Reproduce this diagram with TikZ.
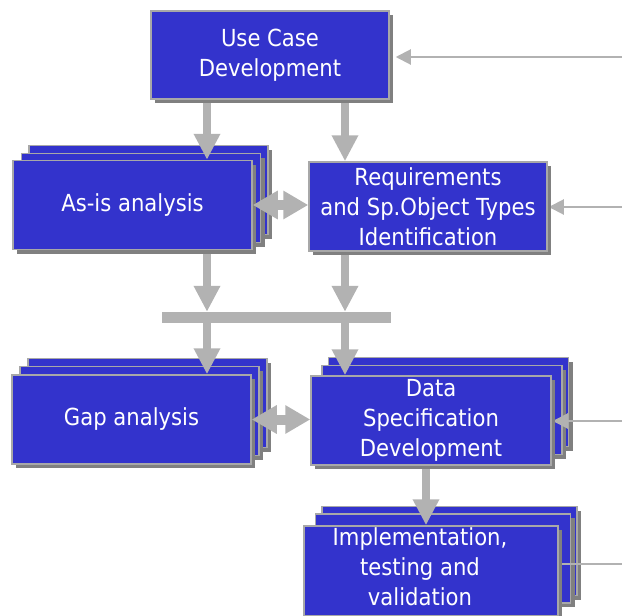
\documentclass[tikz,border=0pt]{standalone}
\usepackage{fontspec}
\setmainfont{DejaVu Sans}[FakeStretch=0.9]
\usetikzlibrary{arrows.meta,shadows,calc}
\definecolor{boxblue}{HTML}{3333CC}
\definecolor{bordergray}{HTML}{A8A8A8}
\definecolor{shadowgray}{HTML}{808080}
\definecolor{arrowgray}{HTML}{B2B2B2}
\pgfdeclarelayer{back}
\pgfdeclarelayer{mid}
\pgfsetlayers{back,mid,main}
\begin{document}
\begin{tikzpicture}[x=1pt,y=-1pt,
 box/.style={draw=bordergray, line width=1.5pt, fill=boxblue, text=white, align=center, inner sep=0pt,
   minimum width=239pt, minimum height=89pt, font=\fontsize{23.5}{30}\selectfont,
   drop shadow={shadow xshift=4pt, shadow yshift=-4pt, fill=shadowgray, opacity=1}},
 boxtext/.style={text=white, align=center, inner sep=0pt, font=\fontsize{23.5}{30}\selectfont},
 fat/.style={draw=arrowgray, line width=8pt, -{Triangle[width=25pt,length=26pt]}},
 dbl/.style={draw=arrowgray, line width=10pt, {Triangle[width=27pt,length=25pt]}-{Triangle[width=27pt,length=25pt]}},
 thinarrow/.style={draw=arrowgray, line width=2pt, -{Triangle[width=15pt,length=15pt]}},
 thinline/.style={draw=arrowgray, line width=2pt},
]
\useasboundingbox (0,0) rectangle (622,616);

% stacked back boxes
\begin{pgfonlayer}{back}
\node[box] (asis3) at (148.5,190) {};
\node[box] (asis2) at (141,198) {};
\node[box] (gap3) at (147.5,403) {};
\node[box] (gap2) at (139.5,411) {};
\node[box, minimum width=240pt] (dsd3) at (448.5,402) {};
\node[box, minimum width=240pt] (dsd2) at (442,410) {};
\node[box, minimum width=255pt] (impl3) at (449.5,551) {};
\node[box, minimum width=255pt] (impl2) at (443,558.5) {};
\end{pgfonlayer}

% front boxes
\node[box, minimum width=238pt, minimum height=88pt] (uc) at (270,55) {Use Case\\Development};
\node[box] (asis) at (132.5,205) {As-is analysis};
\node[box, minimum width=238pt] (req) at (428,206.5) {Requirements\\and Sp.Object Types\\Identification};
\node[box] (gap) at (131.5,419.5) {Gap analysis};
\node[box, minimum width=240pt] (dsd) at (431,420.5) {Data\\Specification\\Development};
\node[box, minimum width=254pt, minimum height=90pt] (impl) at (431,571) {};
\node[boxtext] (impltext) at (420,567) {Implementation,\\testing and\\validation};

% merge bar
\node[fill=arrowgray, inner sep=0pt, minimum width=229pt, minimum height=11pt] (bar) at (276.5,317.5) {};

\coordinate (xl) at (207,0);
\coordinate (xr) at (345,0);
\coordinate (xi) at (426,0);
\coordinate (in1) at (622,57);
\coordinate (in2) at (622,207);
\coordinate (in3) at (622,421);
\coordinate (in4) at (622,564);

\begin{pgfonlayer}{mid}
\draw[fat] (uc.south -| xl) -- (asis.north -| xl);
\draw[fat] (uc.south -| xr) -- (req.north -| xr);
\draw[fat] (asis.south -| xl) -- (bar.north -| xl);
\draw[fat] (req.south -| xr) -- (bar.north -| xr);
\draw[fat] (bar.south -| xl) -- (gap.north -| xl);
\draw[fat] (bar.south -| xr) -- (dsd.north -| xr);
\draw[fat] (dsd.south -| xi) -- (impl.north -| xi);
\draw[thinarrow, shorten >=6pt] (in1) -- (uc.east |- in1);
\draw[thinarrow, shorten >=1pt] (in2) -- (req.east |- in2);
\draw[thinarrow, shorten >=1pt] (in3) -- (dsd.east |- in3);
\draw[thinline] (in4) -- (impl.east |- in4);
\end{pgfonlayer}

\draw[dbl] (asis.east) -- (asis.east -| req.west);
\draw[dbl] (gap.east) -- (gap.east -| dsd.west);
\end{tikzpicture}
\end{document}
